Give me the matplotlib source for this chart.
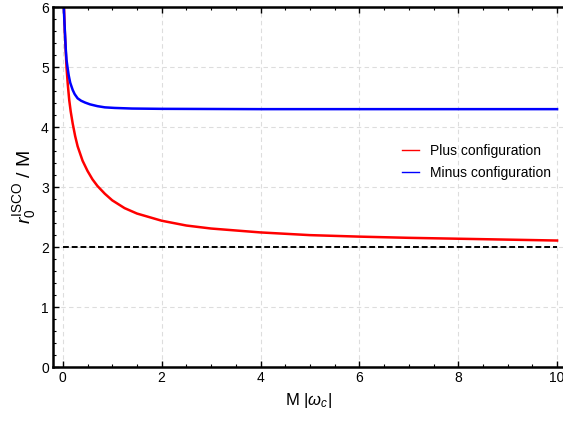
import numpy as np
import matplotlib
matplotlib.use("Agg")
import matplotlib.pyplot as plt
from matplotlib.lines import Line2D
from matplotlib.ticker import MultipleLocator

plt.rcParams['font.family'] = ['Liberation Sans', 'DejaVu Sans']
plt.rcParams['mathtext.fontset'] = 'custom'
plt.rcParams['mathtext.rm'] = 'Liberation Sans'
plt.rcParams['mathtext.it'] = 'Liberation Sans:italic'

# values
x_plus = [0.0, 0.04, 0.075, 0.1, 0.13, 0.16, 0.2, 0.25, 0.3, 0.4, 0.5, 0.6, 0.7,
          0.85, 1.0, 1.25, 1.5, 2.0, 2.5, 3.0, 4.0, 5.0, 6.0, 7.0, 8.0, 9.0, 10.0]
r_plus = [6.6, 5.6, 5.0, 4.72, 4.45, 4.26, 4.06, 3.85, 3.68, 3.44, 3.27, 3.13, 3.02,
          2.89, 2.78, 2.65, 2.56, 2.44, 2.36, 2.31, 2.245, 2.2, 2.175, 2.155, 2.14, 2.125, 2.11]

x_minus = [0.0, 0.03, 0.06, 0.075, 0.095, 0.12, 0.15, 0.2, 0.24, 0.3, 0.37, 0.45, 0.55,
           0.7, 0.85, 1.05, 1.4, 2.0, 4.0, 6.0, 8.0, 10.0]
r_minus = [6.4, 5.8, 5.3, 5.12, 5.0, 4.86, 4.74, 4.62, 4.55, 4.48, 4.44, 4.41, 4.38,
           4.35, 4.33, 4.32, 4.31, 4.305, 4.3, 4.3, 4.3, 4.3]

x_limit = [0.0, 10.0]
r_limit = [2.0, 2.0]

fig = plt.figure(figsize=(5.63, 4.21), dpi=100)
ax = fig.add_axes([0.094, 0.128, 0.906, 0.855])

ax.plot(x_plus, r_plus, color='red', lw=1.8)
ax.plot(x_minus, r_minus, color='blue', lw=1.8)
ax.plot(x_limit, r_limit, color='black', lw=1.4, ls=(0, (3, 1.5)))

ax.set_xlim(-0.2, 10.12)
ax.set_ylim(0, 6)
ax.xaxis.set_major_locator(MultipleLocator(2))
ax.xaxis.set_minor_locator(MultipleLocator(0.5))
ax.yaxis.set_major_locator(MultipleLocator(1))
ax.yaxis.set_minor_locator(MultipleLocator(0.2))
ax.tick_params(which='both', direction='in', top=True, right=False, labelsize=10, pad=3)
ax.tick_params(which='major', length=4, width=1)
ax.tick_params(which='minor', length=2, width=0.8)
ax.grid(True, which='major', color='#dddddd', ls=(0, (4, 3)), lw=0.8)

for s in ['left', 'bottom', 'top']:
    ax.spines[s].set_linewidth(1.8)
ax.spines['right'].set_visible(False)

ax.set_xlabel(r'M $|\omega_c|$', fontsize=12)
ax.set_ylabel(r'$r_0^{\rm ISCO}$ / M', fontsize=14, labelpad=2)

handles = [Line2D([], [], color='red', lw=1), Line2D([], [], color='blue', lw=1)]
ax.legend(handles, ['Plus configuration', 'Minus configuration'], frameon=False,
          fontsize=10, handlelength=1.2, loc='center left', bbox_to_anchor=(0.66, 0.57),
          labelspacing=0.6)

fig.savefig('out.png', dpi=100)
